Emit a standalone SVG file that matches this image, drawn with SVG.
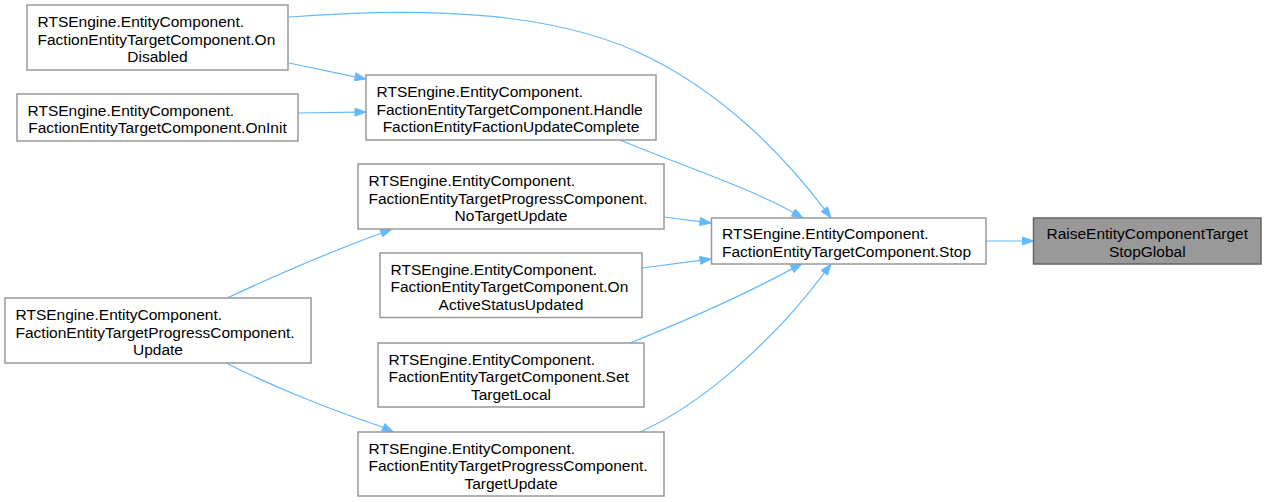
<svg xmlns="http://www.w3.org/2000/svg" width="1266" height="502" viewBox="0 0 1266 502">
<style>
.n rect{fill:#fff;stroke:#999;stroke-width:1.5}
.hl rect{fill:#999;stroke:#666;stroke-width:1.5}
text{font-family:"Liberation Sans",Arial,Helvetica,sans-serif;font-size:15.5px;fill:#000}
.m{text-anchor:middle}
.e path{fill:none;stroke:#63b8ff;stroke-width:1.2}
.e polygon{fill:#63b8ff;stroke:#63b8ff;stroke-width:1}
</style>
<rect width="1266" height="502" fill="#fff"/>
<g class="e" id="edges">
<path d="M289,17 C430,6 560,12 650,58 C720,93 780,150 824.4,209.2"/>
<polygon points="831,218 827.6,206.8 821.2,211.6"/>
<path d="M289,63 L355.2,76.8"/>
<polygon points="366,79 356,72.9 354.4,80.7"/>
<path d="M298,113 L355,112.2"/>
<polygon points="366,112 355,108.2 355,116.2"/>
<path d="M620,140 C680,165 750,188 793.4,212.6"/>
<polygon points="803,218 795.4,209.1 791.4,216.1"/>
<path d="M664,217 L700.1,221.6"/>
<polygon points="711,223 700.6,217.6 699.6,225.6"/>
<path d="M642,268 L700.1,260.4"/>
<polygon points="711,259 700.6,264.4 699.6,256.4"/>
<path d="M630,343 C680,323 740,297 792.2,268.9"/>
<polygon points="802,264 794,272.5 790.4,265.3"/>
<path d="M640,432 C700,405 770,345 824.4,272.8"/>
<polygon points="831,264 827.6,275.2 821.2,270.4"/>
<path d="M986,241 L1022.5,241"/>
<polygon points="1033.5,241 1022.5,237 1022.5,245"/>
<path d="M227,298 C270,278 330,252 381.4,233"/>
<polygon points="391.7,229.3 382.8,236.8 380,229.2"/>
<path d="M228,364 C270,385 330,410 383.3,427.2"/>
<polygon points="393.3,431.7 381.7,430.8 384.9,423.6"/>
</g>
<g class="n" id="node_ondisabled">
<rect x="27" y="5" width="261" height="65"/>
<text x="37.5" y="27">RTSEngine.EntityComponent.</text>
<text x="37.5" y="44.5">FactionEntityTargetComponent.On</text>
<text class="m" x="157.5" y="62">Disabled</text>
</g>
<g class="n" id="node_oninit">
<rect x="17" y="94" width="281" height="47"/>
<text x="27.5" y="115.5">RTSEngine.EntityComponent.</text>
<text class="m" x="157.5" y="133">FactionEntityTargetComponent.OnInit</text>
</g>
<g class="n" id="node_handle">
<rect x="366" y="75" width="290" height="65"/>
<text x="376.5" y="97">RTSEngine.EntityComponent.</text>
<text x="376.5" y="114.5">FactionEntityTargetComponent.Handle</text>
<text class="m" x="511" y="132">FactionEntityFactionUpdateComplete</text>
</g>
<g class="n" id="node_notargetupdate">
<rect x="358" y="164" width="306" height="65"/>
<text x="368.5" y="186">RTSEngine.EntityComponent.</text>
<text x="368.5" y="203.5">FactionEntityTargetProgressComponent.</text>
<text class="m" x="511" y="221">NoTargetUpdate</text>
</g>
<g class="n" id="node_onactivestatus">
<rect x="380" y="253" width="262" height="64.5"/>
<text x="390.5" y="274.75">RTSEngine.EntityComponent.</text>
<text x="390.5" y="292.25">FactionEntityTargetComponent.On</text>
<text class="m" x="511" y="309.75">ActiveStatusUpdated</text>
</g>
<g class="n" id="node_settargetlocal">
<rect x="378" y="343" width="266" height="64"/>
<text x="388.5" y="364.5">RTSEngine.EntityComponent.</text>
<text x="388.5" y="382">FactionEntityTargetComponent.Set</text>
<text class="m" x="511" y="399.5">TargetLocal</text>
</g>
<g class="n" id="node_targetupdate">
<rect x="358" y="432" width="306" height="64"/>
<text x="368.5" y="453.5">RTSEngine.EntityComponent.</text>
<text x="368.5" y="471">FactionEntityTargetProgressComponent.</text>
<text class="m" x="511" y="488.5">TargetUpdate</text>
</g>
<g class="n" id="node_update">
<rect x="5" y="298" width="306" height="65"/>
<text x="15.5" y="320">RTSEngine.EntityComponent.</text>
<text x="15.5" y="337.5">FactionEntityTargetProgressComponent.</text>
<text class="m" x="158" y="355">Update</text>
</g>
<g class="n" id="node_stop">
<rect x="711.5" y="218" width="274.5" height="46"/>
<text x="722" y="239.25">RTSEngine.EntityComponent.</text>
<text x="722" y="256.75">FactionEntityTargetComponent.Stop</text>
</g>
<g class="hl" id="node_raise">
<rect x="1033.5" y="218" width="227.5" height="46"/>
<text class="m" x="1147.25" y="239.25">RaiseEntityComponentTarget</text>
<text class="m" x="1147.25" y="256.75">StopGlobal</text>
</g>
</svg>
